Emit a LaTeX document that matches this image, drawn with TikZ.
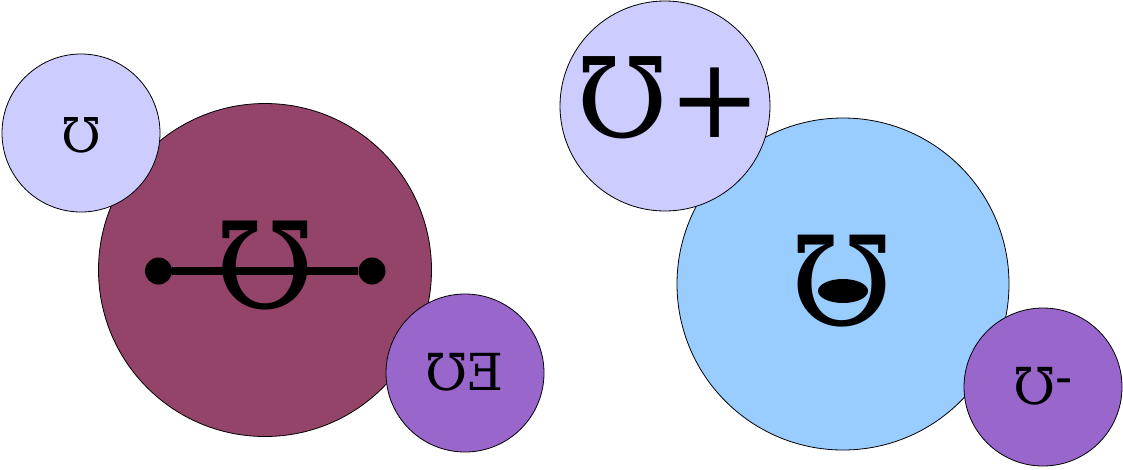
\documentclass[tikz,border=0pt]{standalone}
\usepackage{fontspec}
\newfontfamily\glyph{DejaVu Serif}
\usetikzlibrary{shapes.geometric}
\definecolor{lav}{HTML}{CCCCFF}
\definecolor{maroon}{HTML}{944469}
\definecolor{purp}{HTML}{9966CC}
\definecolor{sky}{HTML}{99CCFF}
\begin{document}
\begin{tikzpicture}[x=1pt,y=-1pt,
  ball/.style={circle,draw=black,line width=0.8pt,inner sep=0pt,minimum size=#1},
  lbl/.style={inner sep=0pt,font=\glyph\fontsize{#1}{#1}\selectfont},
  dot/.style={circle,fill=black,inner sep=0pt,minimum size=27pt}]
\useasboundingbox (0,0) rectangle (1123,469);
% circles
\node[ball=333pt,fill=maroon] (bigL) at (265,270) {};
\node[ball=158pt,fill=lav] (smL) at (81,133) {};
\node[ball=158pt,fill=purp] (puL) at (465,373) {};
\node[ball=332pt,fill=sky] (bigR) at (843,284) {};
\node[ball=210pt,fill=lav] (smR) at (665,106) {};
\node[ball=158pt,fill=purp] (puR) at (1043,387) {};
% labels
\node[lbl=48pt] (tSmL) at (81,135) {℧};
\node[lbl=120pt] (tBigL) at (265,266) {℧};
\node[dot] (dl) at (158.5,271) {};
\node[dot] (dr) at (372,271) {};
\draw[line width=8.5pt] (dl) -- (dr);
\node[lbl=51pt] (tPuL) at (465,372) {℧Ǝ};
\node[lbl=111pt] (tSmR) at (669,98) {℧+};
\node[lbl=124pt] (tBigR) at (842,281) {℧};
\node[ellipse,fill=black,inner sep=0pt,minimum width=50pt,minimum height=24pt] (eye) at (843,291) {};
\node[lbl=51pt] (tPuR) at (1043,386) {℧\raisebox{0.2em}{-}};
\end{tikzpicture}
\end{document}
